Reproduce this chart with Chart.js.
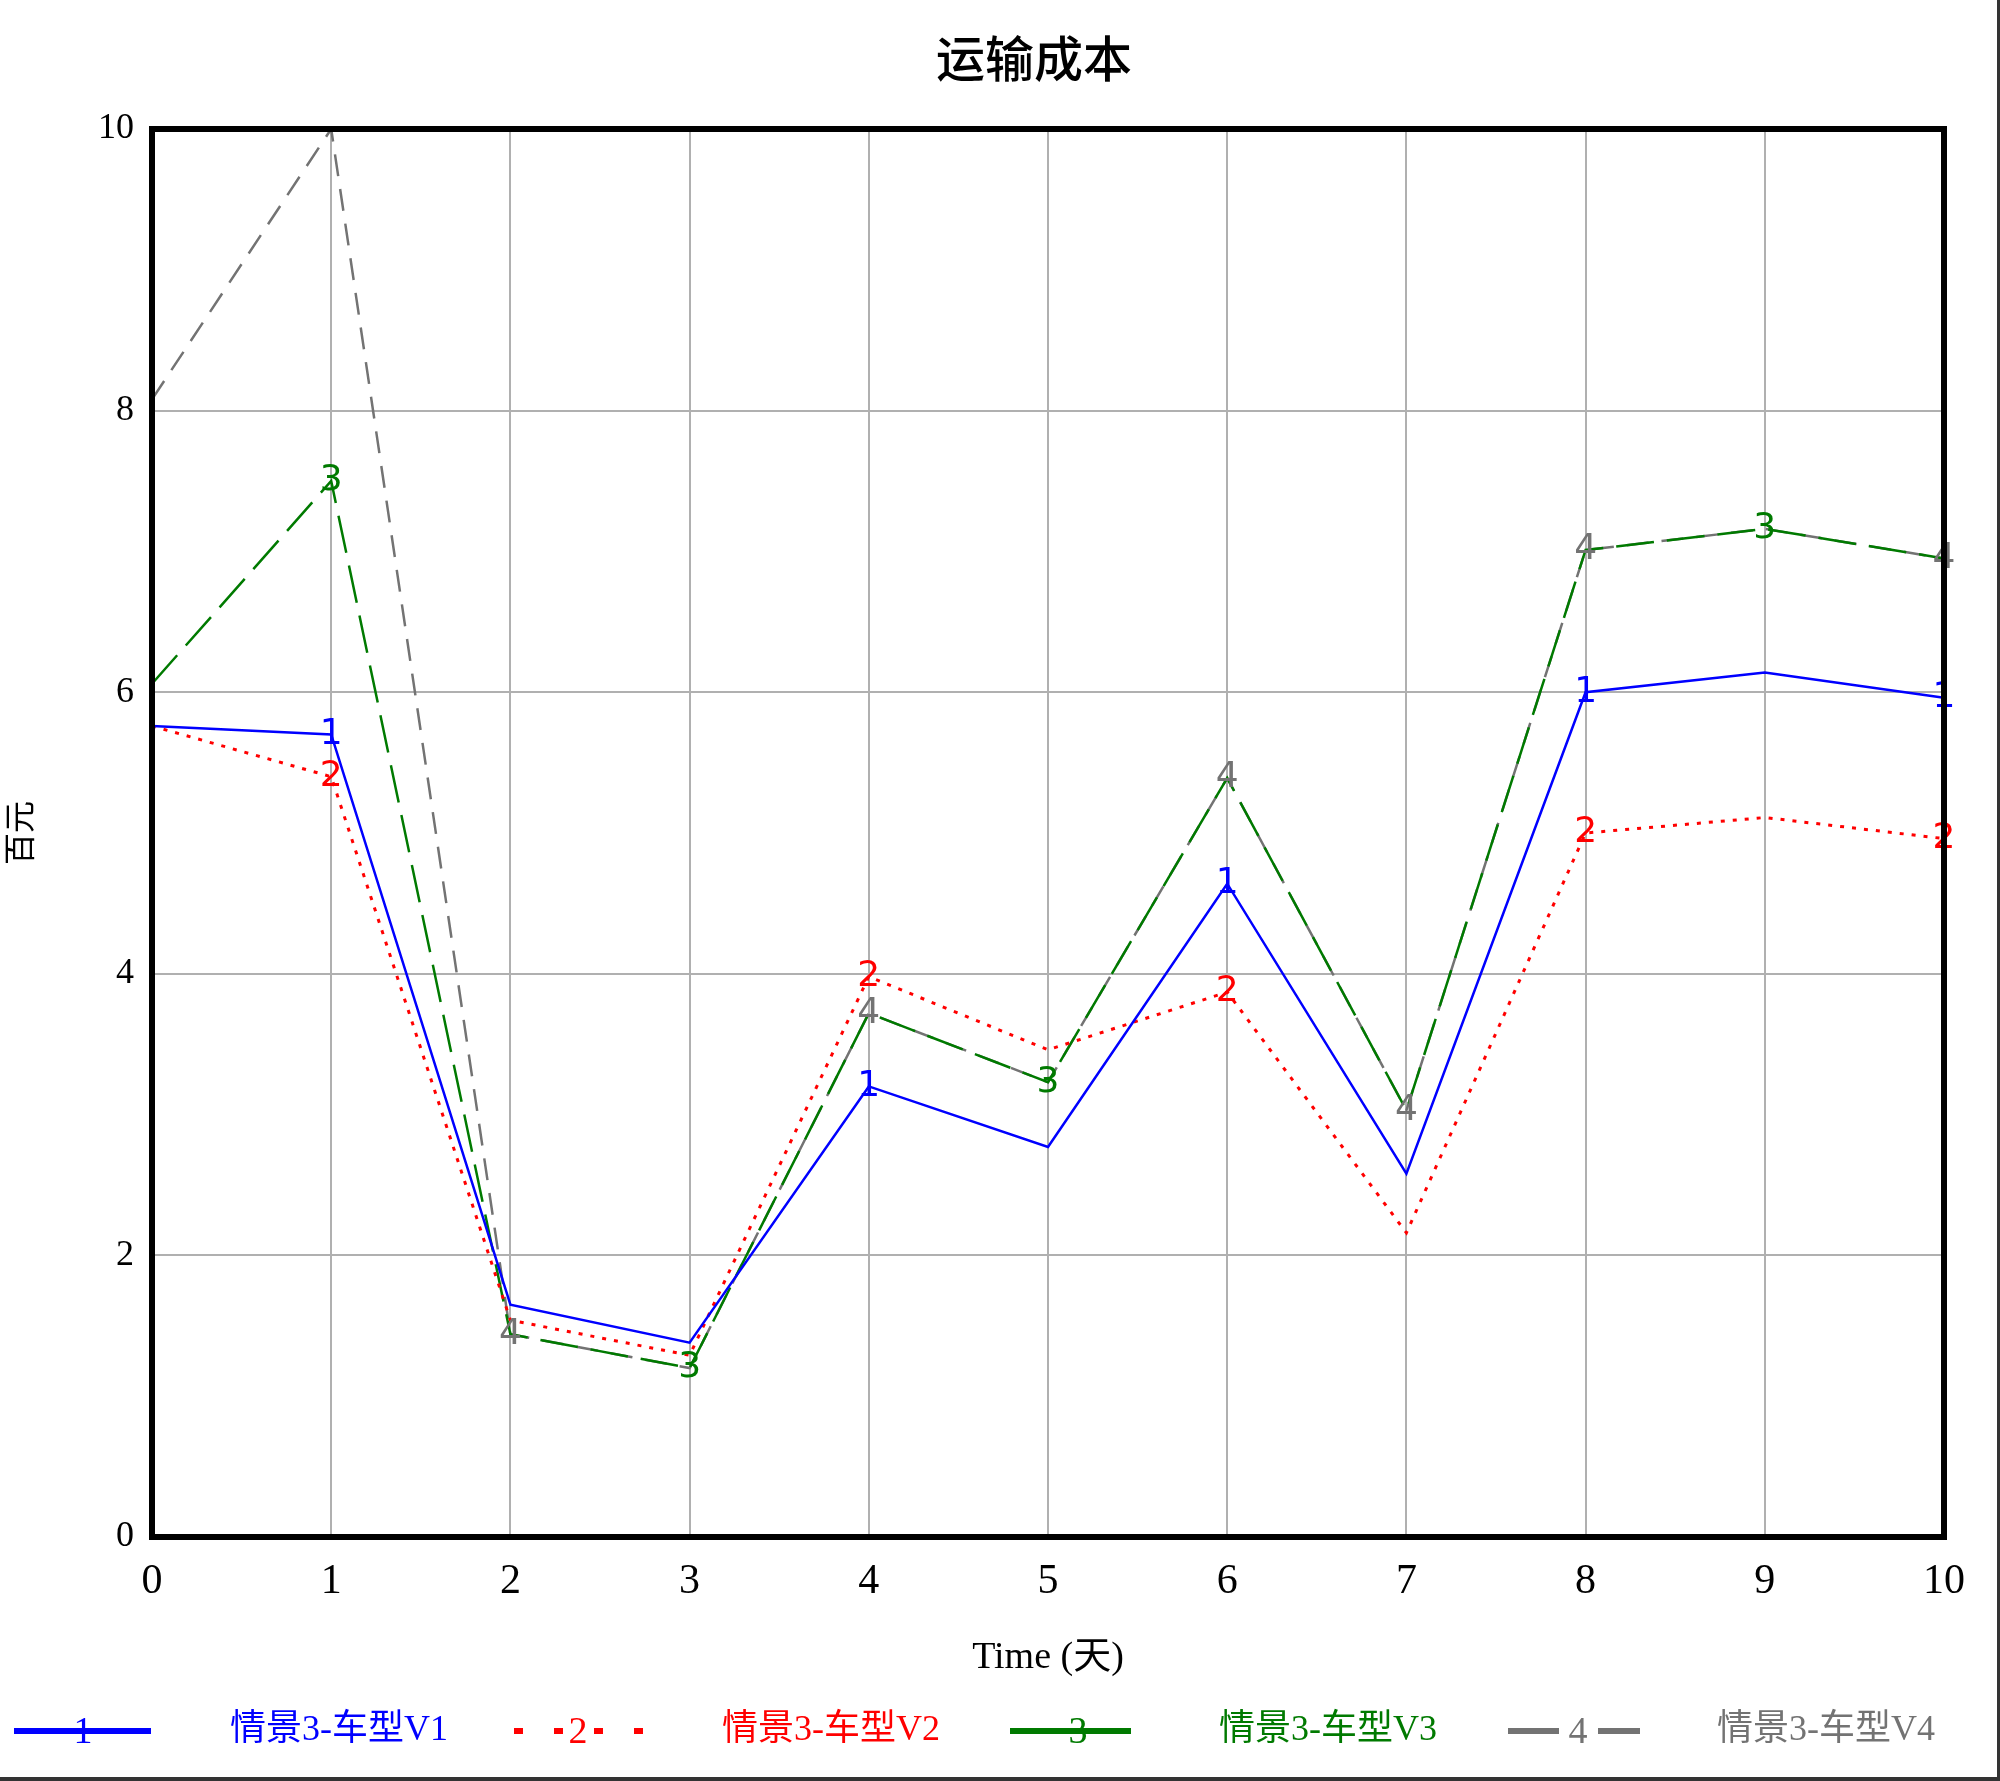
<!DOCTYPE html>
<html>
<head>
<meta charset="utf-8">
<script src="https://cdn.jsdelivr.net/npm/chart.js@4.4.1/dist/chart.umd.min.js"></script>
<style>
  html, body { margin: 0; padding: 0; background: #fff; }
  canvas { display: block; }
</style>
</head>
<body>
<canvas id="costChart" width="2000" height="1781"></canvas>
<script>
// time axis (days) and the four vehicle-type series
const days = ['0', '1', '2', '3', '4', '5', '6', '7', '8', '9', '10'];
const v1 = [5.76, 5.70, 1.65, 1.38, 3.20, 2.77, 4.64, 2.58, 6.00, 6.14, 5.96];
const v2 = [5.76, 5.40, 1.54, 1.29, 3.98, 3.46, 3.87, 2.16, 5.00, 5.11, 4.96];
const v3 = [6.06, 7.50, 1.44, 1.20, 3.72, 3.23, 5.39, 3.03, 7.01, 7.16, 6.95];
const v4 = [8.08, 10.0, 1.44, 1.20, 3.72, 3.23, 5.39, 3.03, 7.01, 7.16, 6.95];
const seriesNames = ['情景3-车型V1', '情景3-车型V2', '情景3-车型V3', '情景3-车型V4'];
// points where the series number is printed on the line
const marks1 = [1, 4, 6, 8, 10];
const marks2 = [1, 4, 6, 8, 10];
const marks3 = [1, 3, 5, 9];
const marks4 = [2, 4, 6, 7, 8, 10];
const yTicks = [0, 2, 4, 6, 8, 10];
const chartTitle = '运输成本';

const colors = ['#0000ff', '#ff0000', '#007a00', '#737373'];
const allMarks = [marks1, marks2, marks3, marks4];

const serif = "'Liberation Serif', 'Noto Sans CJK SC', serif";
const cjk = "'Noto Sans CJK SC', sans-serif";

// title, series numbers on the lines and the heavy plot frame
const lineNumbers = {
  id: 'lineNumbers',
  afterDatasetsDraw(chart) {
    const ctx = chart.ctx;
    ctx.save();
    ctx.font = "36px 'DejaVu Sans', sans-serif";
    ctx.textAlign = 'center';
    ctx.textBaseline = 'middle';
    chart.data.datasets.forEach((ds, i) => {
      const meta = chart.getDatasetMeta(i);
      ctx.fillStyle = colors[i];
      allMarks[i].forEach(idx => {
        const pt = meta.data[idx];
        ctx.fillText(String(i + 1), pt.x, pt.y);
      });
    });
    const a = chart.chartArea;
    ctx.strokeStyle = '#000';
    ctx.lineWidth = 6;
    ctx.lineJoin = 'miter';
    ctx.strokeRect(a.left, a.top, a.right - a.left, a.bottom - a.top);

    ctx.fillStyle = '#000';
    ctx.font = '500 49px ' + cjk;
    ctx.fillText(chartTitle, 1034, 58);
    ctx.restore();
  }
};

// legend along the bottom, drawn by hand to copy the sample style
const bottomLegend = {
  id: 'bottomLegend',
  afterDraw(chart) {
    const ctx = chart.ctx;
    const y = 1731;
    const samples = [
      { x0: 14, x1: 151, dash: [], num: 83 },
      { x0: 514, x1: 646, dash: [9, 31], num: 578 },
      { x0: 1010, x1: 1131, dash: [], num: 1078 },
      { x0: 1508, x1: 1640, dash: [51, 39], num: 1578 }
    ];
    const textX = [230, 722, 1219, 1717];
    ctx.save();
    chart.data.datasets.forEach((ds, i) => {
      const s = samples[i];
      ctx.strokeStyle = colors[i];
      ctx.lineWidth = 6;
      ctx.lineCap = 'butt';
      ctx.setLineDash(s.dash);
      ctx.beginPath();
      ctx.moveTo(s.x0, y);
      ctx.lineTo(s.x1, y);
      ctx.stroke();
      ctx.setLineDash([]);
      ctx.fillStyle = colors[i];
      ctx.font = '38px ' + serif;
      ctx.textAlign = 'center';
      ctx.textBaseline = 'middle';
      ctx.fillText(String(i + 1), s.num, y + 2);
      ctx.font = '36px ' + serif;
      ctx.textAlign = 'left';
      ctx.fillText(ds.label, textX[i], y);
    });
    // thin border on the right and bottom of the picture
    ctx.fillStyle = '#333';
    ctx.fillRect(1997, 0, 3, 1781);
    ctx.fillRect(0, 1777, 2000, 4);
    ctx.restore();
  }
};

function makeSet(i, data, dash, width) {
  return {
    label: seriesNames[i],
    data: data,
    borderColor: colors[i],
    backgroundColor: colors[i],
    borderWidth: width,
    borderDash: dash,
    pointRadius: 0,
    tension: 0,
    fill: false
  };
}

const config = {
  type: 'line',
  data: {
    labels: days,
    datasets: [
      makeSet(0, v1, [], 2.5),
      makeSet(1, v2, [4, 8], 3),
      makeSet(2, v3, [38, 13], 2.5),
      makeSet(3, v4, [22, 13], 2.5)
    ]
  },
  options: {
    responsive: false,
    animation: false,
    layout: { padding: { left: 0, right: 56, top: 129, bottom: 90 } },
    plugins: {
      legend: { display: false },
      tooltip: { enabled: false },
      title: { display: false }
    },
    scales: {
      x: {
        offset: false,
        grid: { color: '#b0b0b0', lineWidth: 2, drawTicks: false },
        border: { display: false },
        ticks: {
          color: '#000',
          font: { family: serif, size: 42 },
          padding: 20,
          maxRotation: 0,
          autoSkip: false
        },
        title: {
          display: true,
          text: 'Time (天)',
          color: '#000',
          font: { family: serif, size: 38 },
          padding: { top: 0, bottom: 10 }
        },
        afterFit(scale) { scale.height = 154; }
      },
      y: {
        min: 0,
        max: 10,
        grid: { color: '#b0b0b0', lineWidth: 2, drawTicks: false },
        border: { display: false },
        afterBuildTicks(scale) { scale.ticks = yTicks.map(v => ({ value: v })); },
        ticks: {
          color: '#000',
          font: { family: serif, size: 36 },
          padding: 18
        },
        title: {
          display: true,
          text: '百元',
          color: '#000',
          font: { family: cjk, size: 32 },
          padding: { top: 0, bottom: 0 }
        },
        afterFit(scale) { scale.width = 152; }
      }
    }
  },
  plugins: [lineNumbers, bottomLegend]
};

new Chart(document.getElementById('costChart').getContext('2d'), config);
</script>
</body>
</html>
